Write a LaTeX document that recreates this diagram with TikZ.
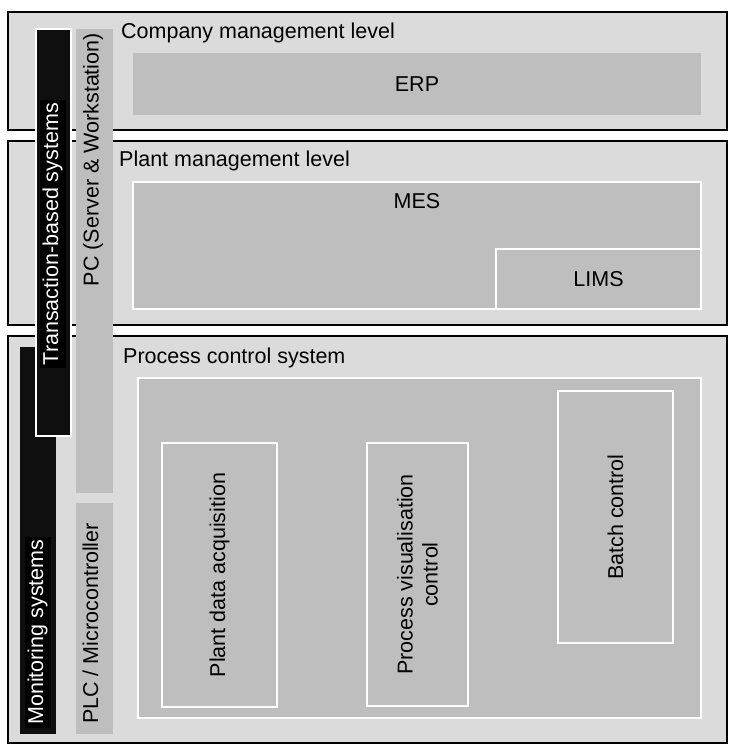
\documentclass[tikz,border=0pt]{standalone}
\usepackage{fontspec}
\setmainfont{Liberation Sans}
\definecolor{levgray}{gray}{0.86}
\definecolor{areagray}{gray}{0.745}
\definecolor{bargray}{gray}{0.06}

\begin{document}
\begin{tikzpicture}
        [
        x=1pt, y=-1pt,
        every node/.style={font=\fontsize{21.5}{25}\selectfont},
        level/.style={rectangle, draw=black, line width=2pt, fill=levgray, minimum width=719pt, inner sep=0pt},
        area/.style={rectangle, draw=white, line width=2pt, fill=areagray, inner sep=0pt},
        bar/.style={rectangle, fill=areagray, minimum width=37pt, inner sep=0pt},
        darkbar/.style={rectangle, fill=bargray, minimum width=36pt, inner sep=0pt},
        lbl/.style={inner sep=0pt, anchor=base west},
        barlbl/.style={rotate=90, inner sep=3pt, text height=15.5pt, text depth=4.5pt}
        ]

        \useasboundingbox (0,0) rectangle (739,751);

        % levels
        \node[level, minimum height=118pt] (company) at (367.5,71) {};
        \node[level, minimum height=184pt] (plant) at (367.5,233) {};
        \node[level, minimum height=407pt] (process) at (367.5,539.5) {};

        \node[lbl] (companylbl) at (121,39) {Company management level};
        \node[lbl] (plantlbl) at (119,167) {Plant management level};
        \node[lbl] (processlbl) at (123,363) {Process control system};

        % systems inside the levels
        \node[area, draw=none, minimum width=568pt, minimum height=62pt] (erp) at (417,84) {ERP};
        \node[area, minimum width=568pt, minimum height=127pt] (mes) at (417,245.5) {};
        \node (meslbl) at (417,201) {MES};
        \node[area, minimum width=205pt, minimum height=60pt] (lims) at (598.5,279) {LIMS};

        \node[area, minimum width=563pt, minimum height=340pt] (pcs) at (419.5,548) {};
        \node[area, minimum width=115pt, minimum height=264pt] (pda) at (219.5,575) {};
        \node[area, minimum width=101pt, minimum height=263pt] (pvc) at (417.5,574.5) {};
        \node[area, minimum width=115pt, minimum height=252pt] (batch) at (615.5,517) {};

        \node[rotate=90] (pdalbl) at (pda.center) {Plant data acquisition};
        \node[rotate=90, align=center] (pvclbl) at (pvc.center) {Process visualisation\\control};
        \node[rotate=90] (batchlbl) at (batch.center) {Batch control};

        % hardware and system bars
        \node[bar, minimum height=464pt] (pc) at (94.5,261) {};
        \node[bar, minimum height=231pt] (plc) at (94.5,618.5) {};
        \node[darkbar, minimum height=387pt] (mon) at (38,540.5) {};
        \node[darkbar, draw=white, line width=2pt, minimum width=35pt, minimum height=407pt] (trans) at (53.5,232.5) {};

        \node[barlbl, anchor=east] (pclbl) at (93,30) {PC (Server \& Workstation)};
        \node[barlbl, anchor=west] (plclbl) at (92.5,727) {PLC / Microcontroller};
        \node[barlbl, anchor=east, text=white, fill=black] (translbl) at (52.5,100) {Transaction-based systems};
        \node[barlbl, anchor=west, text=white, fill=black] (monlbl) at (37.5,728) {Monitoring systems};

    \end{tikzpicture}
\end{document}
